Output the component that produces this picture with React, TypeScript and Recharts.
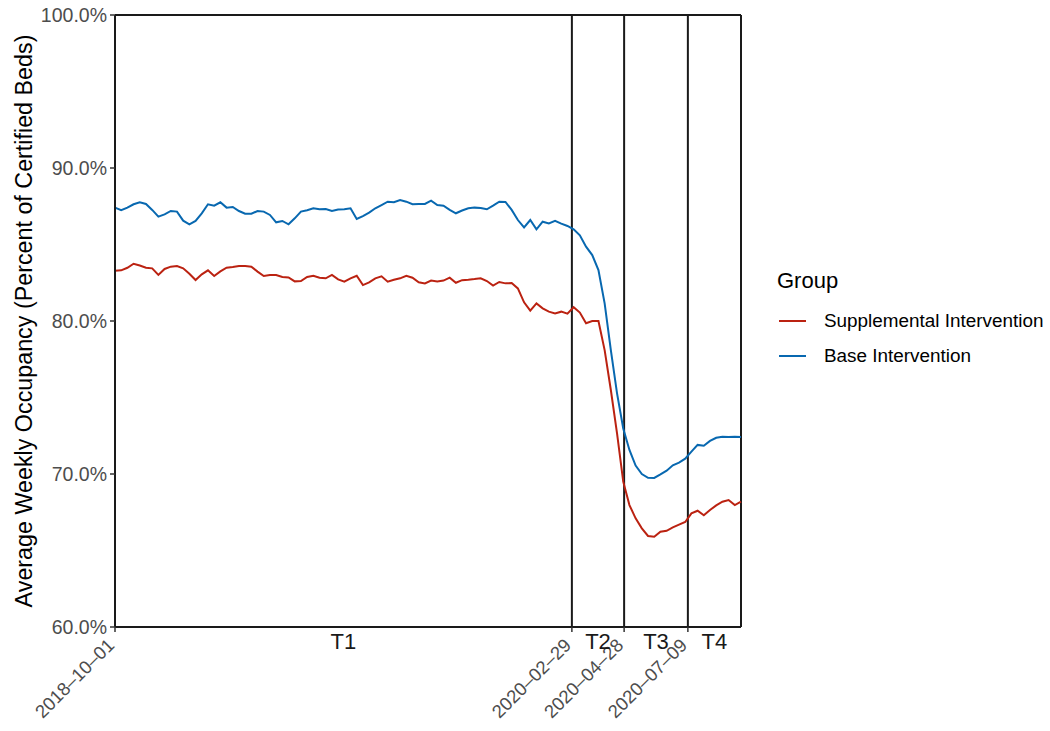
import React from "react"
import { Legend, Line, LineChart, ReferenceLine, XAxis, YAxis } from "recharts"

// weekly averages, starting 2018-10-01
const supplemental = [
  83.29, 83.31, 83.48, 83.74, 83.63, 83.48, 83.44, 83.01, 83.4, 83.55,
  83.59, 83.44, 83.09, 82.68, 83.05, 83.31, 82.94, 83.24, 83.48, 83.53,
  83.59, 83.59, 83.55, 83.23, 82.94, 83.01, 83.01, 82.88, 82.85, 82.59,
  82.61, 82.88, 82.96, 82.83, 82.79, 83.01, 82.72, 82.57, 82.79, 82.96,
  82.35, 82.53, 82.79, 82.92, 82.57, 82.7, 82.79, 82.96, 82.83, 82.53,
  82.46, 82.64, 82.59, 82.64, 82.83, 82.5, 82.67, 82.7, 82.74, 82.79,
  82.61, 82.31, 82.55, 82.46, 82.48, 82.13, 81.22, 80.68, 81.15, 80.83,
  80.61, 80.5, 80.61, 80.48, 80.9, 80.55, 79.85, 80.0, 80.0, 78.1,
  75.49, 72.66, 69.5, 67.97, 67.1, 66.45, 65.95, 65.9, 66.23, 66.29,
  66.51, 66.69, 66.86, 67.43, 67.6, 67.3, 67.65, 67.95, 68.19, 68.3,
  67.97, 68.19,
]

const base = [
  87.41, 87.24, 87.41, 87.63, 87.76, 87.65, 87.26, 86.82, 86.97, 87.19,
  87.15, 86.56, 86.32, 86.54, 87.04, 87.63, 87.54, 87.76, 87.41, 87.45,
  87.19, 87.01, 87.01, 87.19, 87.15, 86.93, 86.45, 86.54, 86.32, 86.71,
  87.15, 87.24, 87.37, 87.3, 87.32, 87.19, 87.28, 87.3, 87.37, 86.67,
  86.86, 87.08, 87.37, 87.58, 87.8, 87.76, 87.91, 87.8, 87.63, 87.65,
  87.65, 87.87, 87.58, 87.54, 87.26, 87.04, 87.22, 87.37, 87.41, 87.39,
  87.3, 87.54, 87.8, 87.78, 87.26, 86.6, 86.12, 86.6, 85.99, 86.49,
  86.38, 86.54, 86.36, 86.21, 85.99, 85.6, 84.86, 84.31, 83.33, 81.15,
  78.1, 75.27, 72.98, 71.57, 70.55, 70.0, 69.75, 69.74, 69.97, 70.22,
  70.57, 70.74, 71.0, 71.46, 71.9, 71.85, 72.16, 72.37, 72.44, 72.42,
  72.44, 72.42,
]

// period boundaries, in days after 2018-10-01
const breakDays = [0, 516, 575, 647]
const breakLabels = ["2018\u201310\u201301", "2020\u201302\u201329", "2020\u201304\u201328", "2020\u201307\u201309"]
const periodNames = ["T1", "T2", "T3", "T4"]
const lastDay = 707

const yTicks = [60, 70, 80, 90, 100]
const groupNames = ["Supplemental Intervention", "Base Intervention"]

const data = supplemental.map((v, i) => ({
  day: i * 7,
  supplemental: v,
  base: base[i],
}))

const periodEnds = [...breakDays.slice(1), lastDay]
const periodCenters = breakDays.map((d, i) => (d + periodEnds[i]) / 2)

const FONT = "'Liberation Sans', Arial, sans-serif"
const RED = "#BB2211"
const BLUE = "#0868B0"

const XTick = (props: any) => {
  const { x, y, payload } = props
  const bi = breakDays.indexOf(payload.value)
  if (bi >= 0) {
    const ax = x - 9
    const ay = y + 10
    return (
      <g>
        <line x1={x} x2={x} y1={y} y2={y + 5} stroke="#333333" strokeWidth={1.5} />
        <text
          x={ax}
          y={ay}
          dy="0.72em"
          textAnchor="end"
          transform={`rotate(-45, ${ax}, ${ay})`}
          fontSize={18.5}
          fontFamily={FONT}
          fill="#4d4d4d"
        >
          {breakLabels[bi]}
        </text>
      </g>
    )
  }
  const pi = periodCenters.indexOf(payload.value)
  return (
    <text x={x} y={y + 22} textAnchor="middle" fontSize={22} fontFamily={FONT} fill="#1a1a1a">
      {periodNames[pi]}
    </text>
  )
}

const YTitle = (props: any) => {
  const { viewBox } = props
  const cy = viewBox.y + viewBox.height / 2
  return (
    <text
      x={24}
      y={cy}
      textAnchor="middle"
      dominantBaseline="central"
      transform={`rotate(-90, 24, ${cy})`}
      fontSize={23.3}
      fontFamily={FONT}
      fill="#000"
    >
      Average Weekly Occupancy (Percent of Certified Beds)
    </text>
  )
}

const GroupLegend = (props: any) => {
  const items = [...(props.payload || [])].sort(
    (a: any, b: any) => groupNames.indexOf(a.value) - groupNames.indexOf(b.value)
  )
  return (
    <div style={{ fontFamily: FONT }}>
      <div style={{ fontSize: 22, color: "#000", marginBottom: 9 }}>Group</div>
      {items.map((p: any) => (
        <div key={p.value} style={{ display: "flex", alignItems: "center", height: 35 }}>
          <div style={{ width: 27, height: 2, background: p.color, marginLeft: 2, marginRight: 18 }} />
          <span style={{ fontSize: 18.9, color: "#000" }}>{p.value}</span>
        </div>
      ))}
    </div>
  )
}

export default function App() {
  return (
    <div style={{ position: "absolute", left: 0, top: 0, background: "#fff" }}>
      <LineChart
        width={1050}
        height={731}
        data={data}
        margin={{ top: 15, right: 309, left: 50, bottom: 0 }}
        style={{ fontFamily: FONT }}
      >
        <XAxis
          dataKey="day"
          type="number"
          domain={[0, lastDay]}
          ticks={[...breakDays, ...periodCenters]}
          interval={0}
          tick={<XTick />}
          tickLine={false}
          tickSize={0}
          tickMargin={0}
          height={104}
          axisLine={{ stroke: "#1a1a1a", strokeWidth: 2 }}
        />
        <YAxis
          type="number"
          domain={[60, 100]}
          ticks={yTicks}
          interval={0}
          width={65}
          tickSize={5}
          tickMargin={3}
          tickFormatter={(v: number) => `${v.toFixed(1)}%`}
          tick={{ fontSize: 19.5, fill: "#4d4d4d", fontFamily: FONT }}
          tickLine={{ stroke: "#333333", strokeWidth: 1.5 }}
          axisLine={{ stroke: "#1a1a1a", strokeWidth: 2 }}
          label={{ content: <YTitle /> }}
        />
        <ReferenceLine y={100} stroke="#1a1a1a" strokeWidth={2} />
        <ReferenceLine x={lastDay} stroke="#1a1a1a" strokeWidth={2} />
        {breakDays.slice(1).map((d) => (
          <ReferenceLine key={d} x={d} stroke="#1a1a1a" strokeWidth={2} />
        ))}
        <Line
          type="linear"
          dataKey="supplemental"
          name="Supplemental Intervention"
          stroke={RED}
          strokeWidth={2}
          dot={false}
          isAnimationActive={false}
        />
        <Line
          type="linear"
          dataKey="base"
          name="Base Intervention"
          stroke={BLUE}
          strokeWidth={2}
          dot={false}
          isAnimationActive={false}
        />
        <Legend
          layout="vertical"
          align="center"
          verticalAlign="middle"
          content={<GroupLegend />}
          wrapperStyle={{ position: "absolute", left: 777, top: 268, width: 272 }}
        />
      </LineChart>
    </div>
  )
}
